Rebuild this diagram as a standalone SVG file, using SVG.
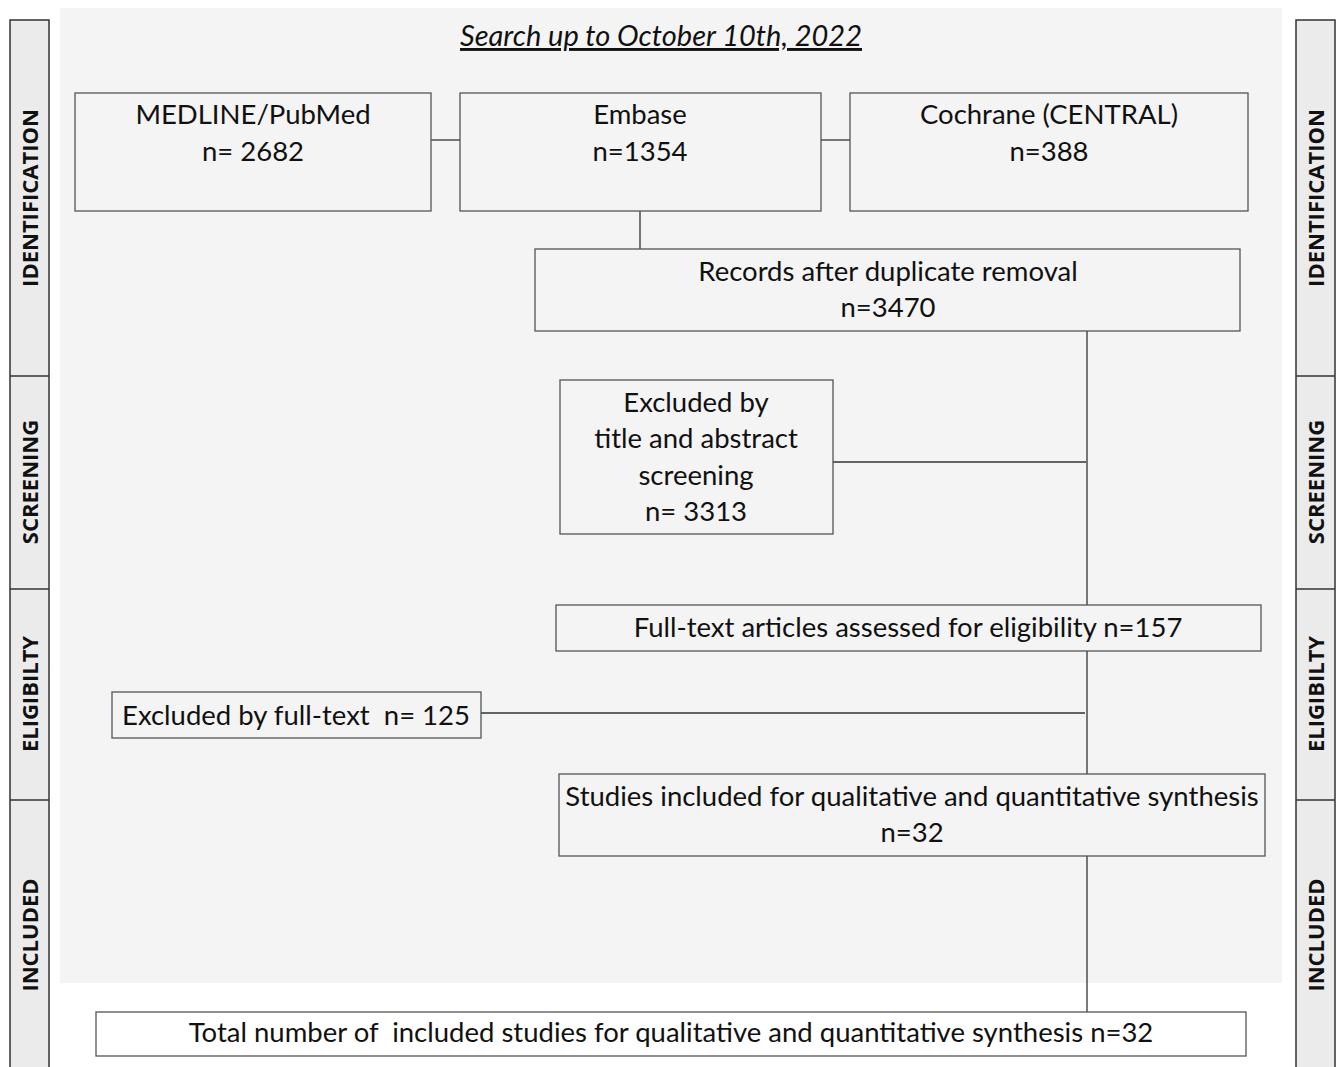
<svg xmlns="http://www.w3.org/2000/svg" width="1337" height="1067" viewBox="0 0 1337 1067">
<style>
.box{fill:#f4f4f4;stroke:#555;stroke-width:1.3}
.wbox{fill:#fff;stroke:#555;stroke-width:1.3}
.side{fill:#ebebeb;stroke:#333;stroke-width:1.5}
.t{font-family:Lato,"Noto Sans",sans-serif;font-size:27.5px;fill:#111;text-anchor:middle}
.s{font-family:"Open Sans","Noto Sans",sans-serif;font-size:22px;font-weight:bold;fill:#111;text-anchor:middle}
.ln{stroke:#333;stroke-width:1.3;fill:none}
</style>
<rect width="1337" height="1067" fill="#fff"/>
<rect x="60" y="8" width="1222" height="975" fill="#f4f4f4"/>
<g id="side-left">
<rect class="side" x="10" y="20" width="39" height="1060"/>
<line class="ln" x1="10" y1="376" x2="49" y2="376"/>
<line class="ln" x1="10" y1="589" x2="49" y2="589"/>
<line class="ln" x1="10" y1="800" x2="49" y2="800"/>
<text class="s" transform="translate(38,198) rotate(-90)">IDENTIFICATION</text>
<text class="s" transform="translate(38,482) rotate(-90)">SCREENING</text>
<text class="s" transform="translate(38,694) rotate(-90)">ELIGIBILTY</text>
<text class="s" transform="translate(38,935) rotate(-90)">INCLUDED</text>
</g>
<g id="side-right">
<rect class="side" x="1296" y="20" width="39" height="1060"/>
<line class="ln" x1="1296" y1="376" x2="1335" y2="376"/>
<line class="ln" x1="1296" y1="589" x2="1335" y2="589"/>
<line class="ln" x1="1296" y1="800" x2="1335" y2="800"/>
<text class="s" transform="translate(1324,198) rotate(-90)">IDENTIFICATION</text>
<text class="s" transform="translate(1324,482) rotate(-90)">SCREENING</text>
<text class="s" transform="translate(1324,694) rotate(-90)">ELIGIBILTY</text>
<text class="s" transform="translate(1324,935) rotate(-90)">INCLUDED</text>
</g>
<g id="title">
<text class="t" x="661" y="46" style="font-size:29px" font-style="italic" text-decoration="underline">Search up to October 10th, 2022</text>
</g>
<g id="connectors">
<line class="ln" x1="431" y1="140" x2="460" y2="140"/>
<line class="ln" x1="821" y1="140" x2="850" y2="140"/>
<line class="ln" x1="640" y1="211" x2="640" y2="249"/>
<line class="ln" x1="1087" y1="331" x2="1087" y2="605"/>
<line class="ln" x1="833" y1="462" x2="1086" y2="462"/>
<line class="ln" x1="1087" y1="651" x2="1087" y2="774"/>
<line class="ln" x1="481" y1="713" x2="1085" y2="713"/>
<line class="ln" x1="1087" y1="856" x2="1087" y2="1012"/>
</g>
<g id="medline">
<rect class="box" x="75" y="93" width="356" height="118"/>
<text class="t" x="253" y="124">MEDLINE/PubMed</text>
<text class="t" x="253" y="161">n= 2682</text>
</g>
<g id="embase">
<rect class="box" x="460" y="93" width="361" height="118"/>
<text class="t" x="640" y="124">Embase</text>
<text class="t" x="640" y="161">n=1354</text>
</g>
<g id="cochrane">
<rect class="box" x="850" y="93" width="398" height="118"/>
<text class="t" x="1049" y="124">Cochrane (CENTRAL)</text>
<text class="t" x="1049" y="161">n=388</text>
</g>
<g id="records">
<rect class="box" x="535" y="249" width="705" height="82"/>
<text class="t" x="888" y="281">Records after duplicate removal</text>
<text class="t" x="888" y="317">n=3470</text>
</g>
<g id="excluded-screening">
<rect class="box" x="560" y="380" width="273" height="154"/>
<text class="t" x="696" y="412">Excluded by</text>
<text class="t" x="696" y="448">title and abstract</text>
<text class="t" x="696" y="485">screening</text>
<text class="t" x="696" y="521">n= 3313</text>
</g>
<g id="fulltext">
<rect class="box" x="556" y="605" width="705" height="46"/>
<text class="t" x="908" y="637">Full-text articles assessed for eligibility n=157</text>
</g>
<g id="excluded-fulltext">
<rect class="box" x="112" y="692" width="369" height="46"/>
<text class="t" x="296" y="725" xml:space="preserve">Excluded by full-text  n= 125</text>
</g>
<g id="studies">
<rect class="box" x="559" y="774" width="706" height="82"/>
<text class="t" x="912" y="806">Studies included for qualitative and quantitative synthesis</text>
<text class="t" x="912" y="842">n=32</text>
</g>
<g id="total">
<rect class="wbox" x="96" y="1012" width="1150" height="44"/>
<text class="t" x="671" y="1042" xml:space="preserve">Total number of  included studies for qualitative and quantitative synthesis n=32</text>
</g>
</svg>
